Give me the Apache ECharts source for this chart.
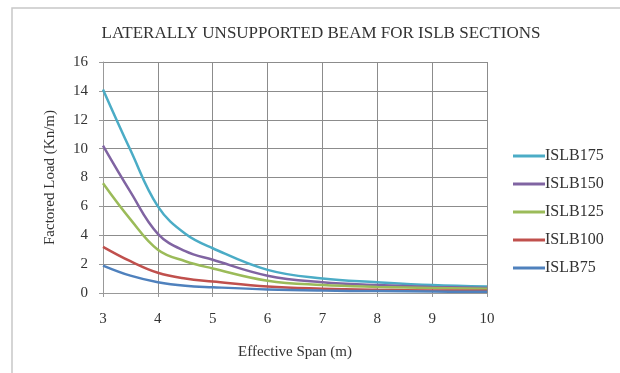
<!DOCTYPE html>
<html><head><meta charset="utf-8">
<script src="https://cdn.jsdelivr.net/npm/echarts@6/dist/echarts.min.js"></script>
<style>html,body{margin:0;padding:0;background:#fff}#c{width:620px;height:373px}</style>
</head><body><div id="c"></div>
<script>
const spans = [3, 3.5, 4, 4.5, 5, 6, 7, 8, 9, 10];
const islb175 = [14.1, 9.9, 6.0, 4.1, 3.1, 1.6, 1.0, 0.75, 0.55, 0.45];
const islb150 = [10.2, 7.0, 4.1, 2.9, 2.3, 1.2, 0.75, 0.55, 0.42, 0.35];
const islb125 = [7.6, 5.1, 3.0, 2.2, 1.7, 0.85, 0.55, 0.42, 0.35, 0.3];
const islb100 = [3.2, 2.2, 1.4, 1.0, 0.8, 0.45, 0.3, 0.22, 0.18, 0.15];
const islb75 = [1.9, 1.2, 0.75, 0.5, 0.4, 0.25, 0.17, 0.13, 0.1, 0.08];
const names = ['ISLB175', 'ISLB150', 'ISLB125', 'ISLB100', 'ISLB75'];
const colors = ['#4BACC6', '#8064A2', '#9BBB59', '#C0504D', '#4F81BD'];
const seriesData = [islb175, islb150, islb125, islb100, islb75];
const font = 'Liberation Serif';
const chart = echarts.init(document.getElementById('c'), null, {renderer: 'canvas'});
chart.setOption({
  animation: false,
  textStyle: {fontFamily: font},
  graphic: [{type: 'rect', shape: {x: 12, y: 8, width: 620, height: 380}, style: {fill: 'none', stroke: '#c8c8c8', lineWidth: 1.5}, silent: true}],
  title: {text: 'LATERALLY UNSUPPORTED BEAM FOR ISLB SECTIONS', left: 316, textAlign: 'center', top: 20,
    textStyle: {fontFamily: font, fontSize: 17, fontWeight: 'normal', color: '#333'}},
  grid: {left: 103, right: 133, top: 62, bottom: 80},
  legend: {orient: 'vertical', left: 508, top: 143, itemGap: 12, itemWidth: 32, itemHeight: 3, icon: 'rect',
    textStyle: {fontFamily: font, fontSize: 16, color: '#333', padding: [0, 0, 0, -5]},
    data: names},
  xAxis: {type: 'value', min: 3, max: 10, interval: 1,
    name: 'Effective Span (m)', nameLocation: 'middle', nameGap: 52,
    nameTextStyle: {fontFamily: font, fontSize: 15, color: '#333'},
    axisLine: {show: true, lineStyle: {color: '#999'}},
    axisTick: {show: true, length: 4, lineStyle: {color: '#999'}},
    axisLabel: {fontFamily: font, fontSize: 15, color: '#333', margin: 19},
    splitLine: {show: true, lineStyle: {color: '#8c8c8c'}}},
  yAxis: {type: 'value', min: 0, max: 16, interval: 2,
    name: 'Factored Load (Kn/m)', nameLocation: 'middle', nameGap: 45,
    nameTextStyle: {fontFamily: font, fontSize: 15, color: '#333'},
    axisLine: {show: true, lineStyle: {color: '#999'}},
    axisTick: {show: true, length: 4, lineStyle: {color: '#999'}},
    axisLabel: {fontFamily: font, fontSize: 15, color: '#333', margin: 15},
    splitLine: {show: true, lineStyle: {color: '#8c8c8c'}}},
  series: names.map((n, i) => ({
    name: n, type: 'line', smooth: 0.4, symbol: 'none',
    color: colors[i],
    lineStyle: {width: 2.5, color: colors[i]},
    data: spans.map((x, j) => [x, seriesData[i][j]])
  }))
});
</script></body></html>
